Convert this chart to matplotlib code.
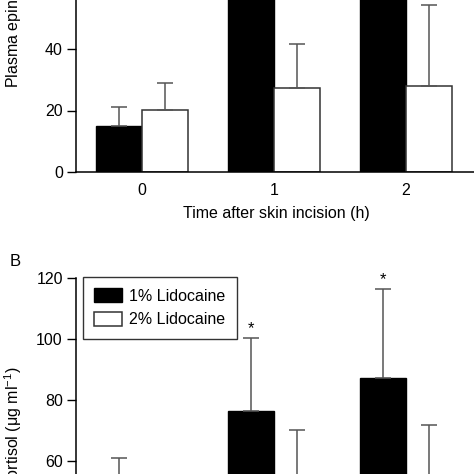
import numpy as np
import matplotlib
matplotlib.use('Agg')
import matplotlib.pyplot as plt

plt.rcParams['font.family'] = ['Liberation Sans', 'DejaVu Sans']
plt.rcParams['mathtext.fontset'] = 'custom'
plt.rcParams['mathtext.rm'] = 'Liberation Sans'
plt.rcParams['mathtext.it'] = 'Liberation Sans:italic'

# data (values above the crop are estimates)
times = [0, 1, 2]
time_labels = ['0', '1', '2']
groups = ['1% Lidocaine', '2% Lidocaine']

epi_1pct = [15.0, 70.0, 68.0]
epi_1pct_sd = [6.0, 20.0, 22.0]
epi_2pct = [20.3, 27.2, 28.1]
epi_2pct_sd = [8.7, 14.5, 26.3]

cort_1pct = [45.0, 76.3, 87.3]
cort_1pct_sd = [16.2, 23.9, 28.9]
cort_2pct = [40.0, 50.0, 52.0]
cort_2pct_sd = [12.0, 20.3, 20.0]
cort_sig = [False, True, True]  # * over 1% bars

x = np.array(times, dtype=float)
w = 0.345
err_kw = dict(ecolor='#555555', elinewidth=1.1, capsize=5.5, capthick=1.1)

fig = plt.figure(figsize=(4.74, 4.74), dpi=100)

# panel A (top part cropped away)
ax1 = fig.add_axes([76 / 474, 1 - 172 / 474, 402.6 / 474, 246 / 474])
ax1.bar(x - w / 2, epi_1pct, w, color='black', edgecolor='black',
        yerr=[np.zeros(3), epi_1pct_sd], error_kw=err_kw, label=groups[0])
ax1.bar(x + w / 2, epi_2pct, w, color='white', edgecolor='#333333', linewidth=1.1,
        yerr=[np.zeros(3), epi_2pct_sd], error_kw=err_kw, label=groups[1])
ax1.set_xlim(-0.5, 2.55)
ax1.set_ylim(0, 80)
ax1.set_yticks([0, 20, 40, 60, 80])
ax1.set_xticks(x)
ax1.set_xticklabels(time_labels)
ax1.set_xlabel('Time after skin incision (h)', fontsize=11.5)
ax1.xaxis.set_label_coords(0.497, -0.137)
ax1.text(-0.157, 0.342, 'Plasma epinephrine (pg ml$^{-1}$)', transform=ax1.transAxes,
         rotation=90, ha='center', va='bottom', fontsize=11.5)

# panel B (bottom part cropped away)
ax2 = fig.add_axes([76 / 474, (474 - 644.9) / 474, 402.6 / 474, 367.2 / 474])
ax2.bar(x - w / 2, cort_1pct, w, color='black', edgecolor='black',
        yerr=[np.zeros(3), cort_1pct_sd], error_kw=err_kw, label=groups[0])
ax2.bar(x + w / 2, cort_2pct, w, color='white', edgecolor='#333333', linewidth=1.1,
        yerr=[np.zeros(3), cort_2pct_sd], error_kw=err_kw, label=groups[1])
for xi, m, s, sig in zip(x, cort_1pct, cort_1pct_sd, cort_sig):
    if sig:
        ax2.annotate('*', xy=(xi - w / 2, m + s), xytext=(0, 1.5), textcoords='offset points',
                     ha='center', va='bottom', fontsize=12)
ax2.set_xlim(-0.5, 2.55)
ax2.set_ylim(0, 120)
ax2.set_yticks([0, 20, 40, 60, 80, 100, 120])
ax2.set_xticks(x)
ax2.set_xticklabels(time_labels)
ax2.text(-0.157, 0.757, 'Plasma cortisol (\u03bcg ml$^{-1}$)',
         transform=ax2.transAxes, rotation=90, ha='center', va='top', fontsize=11.5)
fig.text(15 / 474, 1 - 262 / 474, 'B', ha='center', va='center', fontsize=12)
leg = ax2.legend(loc='upper left', bbox_to_anchor=(83 / 474, 1 - 277 / 474),
                 bbox_transform=fig.transFigure, borderaxespad=0, fancybox=False,
                 edgecolor='#333333', framealpha=1, fontsize=11.5,
                 handlelength=1.75, handleheight=1.0, handletextpad=0.45,
                 labelspacing=0.5, borderpad=0.7)
leg.get_frame().set_linewidth(1.0)

for ax in (ax1, ax2):
    ax.spines['top'].set_visible(False)
    ax.spines['right'].set_visible(False)
    ax.spines['left'].set_linewidth(1.1)
    ax.spines['bottom'].set_linewidth(1.1)
    ax.tick_params(axis='y', direction='out', length=6.5, width=1.0, pad=3, labelsize=11.5)
    ax.tick_params(axis='x', length=0, pad=8, labelsize=11.5)

fig.savefig('out.png', dpi=100)
